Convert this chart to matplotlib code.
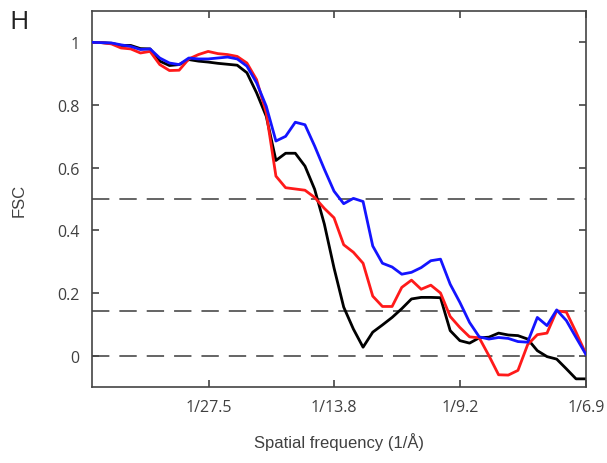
import numpy as np
import matplotlib
matplotlib.use("Agg")
import matplotlib.pyplot as plt

plt.rcParams['font.family'] = ['Open Sans', 'DejaVu Sans']
plt.rcParams['lines.scale_dashes'] = False

# Fourier shell index (box * pixel size ~ 359 Å)
shell = np.arange(1, 53)
box_len = 359.0

fsc_black = [1.0, 0.999, 0.997, 0.99, 0.99, 0.98, 0.979, 0.94, 0.926, 0.929,
             0.945, 0.94, 0.937, 0.933, 0.93, 0.927, 0.903, 0.839, 0.764, 0.623,
             0.646, 0.646, 0.605, 0.531, 0.42, 0.28, 0.155, 0.085, 0.027, 0.075,
             0.098, 0.122, 0.15, 0.181, 0.186, 0.186, 0.185, 0.08, 0.048, 0.04,
             0.057, 0.059, 0.072, 0.066, 0.064, 0.053, 0.016, -0.003, -0.011, -0.042,
             -0.074, -0.074]
fsc_red = [1.0, 0.999, 0.995, 0.982, 0.979, 0.966, 0.971, 0.929, 0.91, 0.911,
           0.947, 0.961, 0.971, 0.964, 0.961, 0.955, 0.934, 0.881, 0.775, 0.573,
           0.536, 0.532, 0.528, 0.505, 0.47, 0.44, 0.354, 0.33, 0.295, 0.19,
           0.157, 0.157, 0.218, 0.241, 0.212, 0.225, 0.20, 0.125, 0.09, 0.06,
           0.057, 0.0, -0.061, -0.062, -0.047, 0.035, 0.067, 0.072, 0.143, 0.139,
           0.075, 0.007]
fsc_blue = [1.0, 0.999, 0.998, 0.992, 0.987, 0.977, 0.979, 0.95, 0.934, 0.929,
            0.95, 0.947, 0.947, 0.95, 0.953, 0.947, 0.924, 0.871, 0.796, 0.685,
            0.70, 0.745, 0.737, 0.669, 0.595, 0.525, 0.485, 0.502, 0.492, 0.35,
            0.295, 0.283, 0.26, 0.266, 0.281, 0.303, 0.308, 0.228, 0.17, 0.106,
            0.06, 0.053, 0.058, 0.055, 0.045, 0.043, 0.122, 0.096, 0.146, 0.112,
            0.058, 0.005]

thresholds = [0.5, 0.143, 0.0]
tick_res = [27.5, 13.8, 9.2, 6.9]
tick_labels = ["1/27.5", "1/13.8", "1/9.2", "1/6.9"]
y_ticks = [0, 0.2, 0.4, 0.6, 0.8, 1.0]
y_labels = ["0", "0.2", "0.4", "0.6", "0.8", "1"]

freq = shell / box_len

fig = plt.figure(figsize=(6.07, 4.64), dpi=100)
ax = fig.add_axes([92/607, 76/464, 494/607, 376/464])

xmin, xmax = freq[0], 1/6.9
for t in thresholds:
    ax.plot([xmin, xmax], [t, t], color='#4a4a4a', lw=1.2, dashes=(12.5, 7.2), zorder=1)

ax.plot(freq, fsc_black, color='black', lw=2.0, zorder=2)
ax.plot(freq, fsc_red, color='#ff1a1a', lw=2.0, zorder=3)
ax.plot(freq, fsc_blue, color='#1414ff', lw=2.0, zorder=4)

ax.set_xlim(xmin, xmax)
ax.set_ylim(-0.1, 1.1)
ax.set_xticks([1/r for r in tick_res])
ax.set_xticklabels(tick_labels)
ax.set_yticks(y_ticks)
ax.set_yticklabels(y_labels)

for s in ax.spines.values():
    s.set_color('#444444')
    s.set_linewidth(1.2)
ax.tick_params(direction='in', length=5, width=1.2, color='#444444',
               top=True, right=True, labelsize=11.5, labelcolor='#404040')
ax.tick_params(axis='x', pad=9)
ax.tick_params(axis='y', pad=9)

lab_font = ['Liberation Sans', 'DejaVu Sans']
ax.set_xlabel("Spatial frequency (1/Å)", fontsize=12, color='#404040', labelpad=12,
              family=lab_font)
ax.set_ylabel("FSC", fontsize=12, color='#404040', labelpad=22, family=lab_font)

fig.text(9/607, 1 - 22.5/464, "H", fontsize=19, color='#222222', va='center', ha='left')

fig.savefig("out.png", dpi=100)
